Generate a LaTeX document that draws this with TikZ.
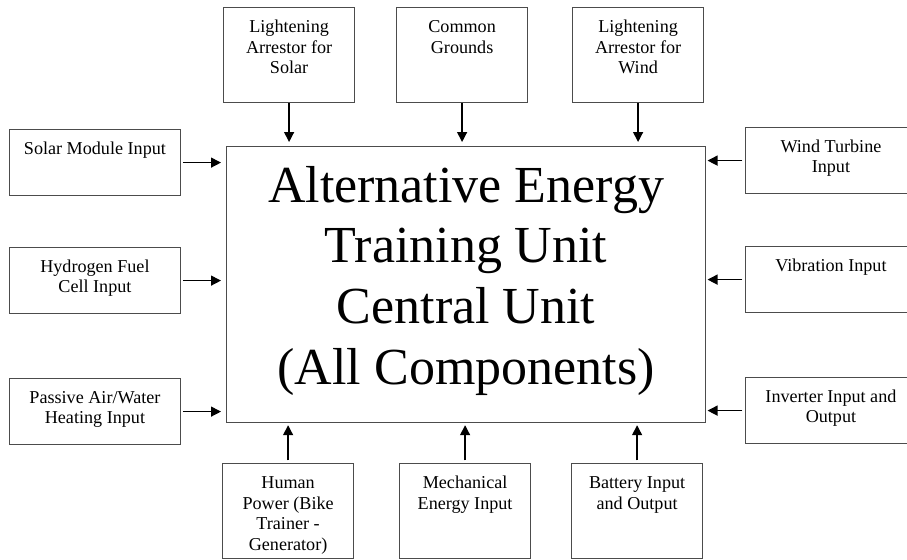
\documentclass[tikz,border=0pt]{standalone}
\usepackage{fontspec}
\setmainfont{Liberation Serif}
\usetikzlibrary{arrows.meta}

\tikzset{
	unit/.style={draw=black!70, line width=0.9pt, anchor=north west, inner sep=0pt, font=\fontsize{13.6}{15.3}\selectfont},
	vertbox/.style={unit, execute at begin node={\begin{minipage}[c][71.25pt][t]{98.25pt}\centering\rule{0pt}{19pt}}, execute at end node={\end{minipage}}},
	sidebox/.style={unit, execute at begin node={\begin{minipage}[c][49.5pt][t]{128pt}\centering\rule{0pt}{18.5pt}}, execute at end node={\end{minipage}}},
	feed/.style={-{Triangle[length=7.5pt, width=7.5pt]}, line width=1pt},
}

\begin{document}
\begin{tikzpicture}[x=0.75pt, y=-0.75pt]
		\useasboundingbox (0, 0) rectangle (907, 560);
		
		\node[unit, minimum width=359.25pt, minimum height=207pt, align=center, font=\fontsize{39}{45.5}\selectfont] (central) at (226, 146) {Alternative Energy\\Training Unit\\Central Unit\\(All Components)\rule[-14pt]{0pt}{0pt}};
		
		\node[vertbox] (arrsolar) at (223, 7) {Lightening\\Arrestor for\\Solar};
		\node[vertbox] (ground) at (396, 7) {Common\\Grounds};
		\node[vertbox] (arrwind) at (572, 7) {Lightening\\Arrestor for\\Wind};
		
		\node[sidebox] (solar) at (9, 129) {Solar Module Input};
		\node[sidebox] (hydrogen) at (9, 247) {Hydrogen Fuel\\Cell Input};
		\node[sidebox] (passive) at (9, 378) {Passive Air/Water\\Heating Input};
		
		\node[sidebox] (wind) at (745, 127) {Wind Turbine\\Input};
		\node[sidebox] (vibration) at (745, 246) {Vibration Input};
		\node[sidebox] (inverter) at (745, 377) {Inverter Input and\\Output};
		
		\node[vertbox] (human) at (222, 463) {Human\\Power (Bike\\Trainer -\\Generator)};
		\node[vertbox] (mechanical) at (399, 463) {Mechanical\\Energy Input};
		\node[vertbox] (battery) at (571, 463) {Battery Input\\and Output};
		
		\draw[feed, shorten >=3pt] (arrsolar) -- (arrsolar |- central.north);
		\draw[feed, shorten >=3pt] (ground) -- (ground |- central.north);
		\draw[feed, shorten >=3pt] (arrwind) -- (arrwind |- central.north);
		
		\draw[feed, shorten <=1.5pt, shorten >=3.75pt] (solar) -- (solar -| central.west);
		\draw[feed, shorten <=1.5pt, shorten >=3.75pt] (hydrogen) -- (hydrogen -| central.west);
		\draw[feed, shorten <=1.5pt, shorten >=3.75pt] (passive) -- (passive -| central.west);
		
		\draw[feed, shorten <=2pt, shorten >=1pt] (wind) -- (wind -| central.east);
		\draw[feed, shorten <=2pt, shorten >=1pt] (vibration) -- (vibration -| central.east);
		\draw[feed, shorten <=2pt, shorten >=1pt] (inverter) -- (inverter -| central.east);
		
		\draw[feed, shorten <=2pt, shorten >=1.5pt] (human) -- (human |- central.south);
		\draw[feed, shorten <=2pt, shorten >=1.5pt] (mechanical) -- (mechanical |- central.south);
		\draw[feed, shorten <=2pt, shorten >=1.5pt] (battery) -- (battery |- central.south);
	\end{tikzpicture}
\end{document}
